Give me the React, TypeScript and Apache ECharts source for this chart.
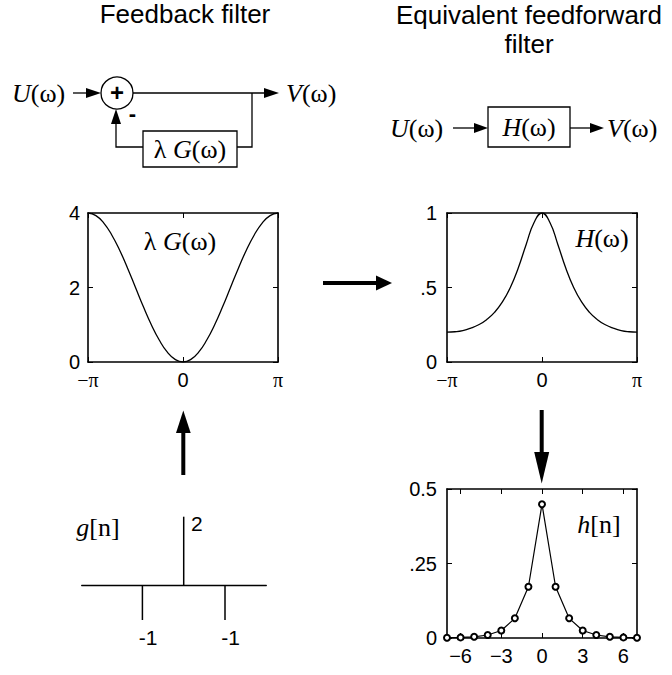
import React, { useEffect, useRef } from "react";
import * as echarts from "echarts";

// ---- data ----
const freqCats = ['−π','','','','','','','','','','','','0','','','','','','','','','','','','π'];
const lamGValues = [4, 3.93, 3.73, 3.41, 3.0, 2.52, 2.0, 1.48, 1.0, 0.59, 0.27, 0.07, 0, 0.07, 0.27, 0.59, 1.0, 1.48, 2.0, 2.52, 3.0, 3.41, 3.73, 3.93, 4];
const hFreqValues = [0.2, 0.203, 0.211, 0.227, 0.25, 0.284, 0.333, 0.403, 0.5, 0.631, 0.789, 0.936, 1, 0.936, 0.789, 0.631, 0.5, 0.403, 0.333, 0.284, 0.25, 0.227, 0.211, 0.203, 0.2];
const nValues = [-7, -6, -5, -4, -3, -2, -1, 0, 1, 2, 3, 4, 5, 6, 7];
const hnValues = [0.001, 0.002, 0.004, 0.01, 0.025, 0.066, 0.172, 0.449, 0.172, 0.066, 0.025, 0.01, 0.004, 0.002, 0.001];
const nTickLabels = [-6, -3, 0, 3, 6];
const lamGTickLabels = ['0', '2', '4'];
const hFreqTickLabels = ['0', '.5', '1'];
const hnTickLabels = ['0', '.25', '0.5'];
const gIndex = [-1, 0, 1];
const gValues = [-1, 2, -1];

const sans = "'Liberation Sans', Arial, Helvetica, sans-serif";
const serif = "'Liberation Serif', 'Times New Roman', serif";

const tickFont = 20;

function mathText(x: number, y: number, parts: [string, boolean][], align: string, size = 26) {
  const text = parts.map(([t, it]) => `{${it ? 'i' : 'r'}|${t}}`).join('');
  return {
    type: 'text', x, y, silent: true,
    style: {
      text, align, verticalAlign: 'middle', fill: '#000',
      fontSize: size, fontFamily: serif,
      rich: {
        i: { fontStyle: 'italic', fontFamily: serif, fontSize: size, fill: '#000' },
        r: { fontStyle: 'normal', fontFamily: serif, fontSize: size, fill: '#000' },
      },
    },
  };
}

const thin = { stroke: '#000', lineWidth: 1.3, fill: 'none' };
function line(pts: number[][], w = 1.3) {
  return { type: 'polyline', silent: true, shape: { points: pts }, style: { stroke: '#000', lineWidth: w, fill: 'none' } };
}
function head(pts: number[][]) {
  return { type: 'polygon', silent: true, shape: { points: pts }, style: { fill: '#000', stroke: 'none' } };
}

function boxAxesX(gridIndex: number, cats: any[], labelFmt: any, interval: any, showLabel: boolean, position: string) {
  return {
    type: 'category', gridIndex, data: cats, boundaryGap: false, position,
    axisLine: { show: true, onZero: false, lineStyle: { color: '#000', width: 1.6 } },
    axisTick: { show: true, inside: true, length: 5, interval, alignWithLabel: true, lineStyle: { color: '#000', width: 1 } },
    axisLabel: showLabel ? {
      show: true, interval, formatter: labelFmt, color: '#000', fontSize: tickFont, fontFamily: sans, margin: 8,
      rich: { p: { fontFamily: serif, fontSize: tickFont, fill: '#000', color: '#000' } },
    } : { show: false, interval },
    splitLine: { show: false },
  };
}
function boxAxesY(gridIndex: number, min: number, max: number, interval: number, labels: string[] | null, position: string, margin = 8) {
  return {
    type: 'value', gridIndex, min, max, interval, position,
    axisLine: { show: true, onZero: false, lineStyle: { color: '#000', width: 1.6 } },
    axisTick: { show: true, inside: true, length: 5, lineStyle: { color: '#000', width: 1 } },
    axisLabel: labels ? {
      show: true, color: '#000', fontSize: tickFont, fontFamily: sans, margin,
      formatter: (v: number) => labels[Math.round((v - min) / interval)] ?? '',
    } : { show: false },
    splitLine: { show: false },
  };
}

export default function App() {
  const ref = useRef<HTMLDivElement>(null);
  useEffect(() => {
    document.body.style.margin = '0';
    const chart = echarts.init(ref.current!, null, { renderer: 'svg' });
    const freqFmt = (v: string) => (v === '0' ? v : `{p|${v}}`);
    const nInterval = (i: number) => nTickLabels.includes(nValues[i]);

    const option: any = {
      animation: false,
      backgroundColor: '#fff',
      grid: [
        { left: 88, top: 213, width: 190, height: 149, containLabel: false, outerBoundsMode: 'none' },
        { left: 447, top: 213, width: 190, height: 149, containLabel: false, outerBoundsMode: 'none' },
        { left: 447, top: 489, width: 190, height: 149, containLabel: false, outerBoundsMode: 'none' },
        { left: 81.7, top: 516.7, width: 184.6, height: 103.3, containLabel: false, outerBoundsMode: 'none' },
      ],
      xAxis: [
        boxAxesX(0, freqCats, freqFmt, 11, true, 'bottom'),
        boxAxesX(0, freqCats, freqFmt, 11, false, 'top'),
        boxAxesX(1, freqCats, freqFmt, 11, true, 'bottom'),
        boxAxesX(1, freqCats, freqFmt, 11, false, 'top'),
        boxAxesX(2, nValues.map(String), (v: string) => v.replace('-', '−'), nInterval, true, 'bottom'),
        boxAxesX(2, nValues.map(String), null, nInterval, false, 'top'),
        {
          type: 'value', gridIndex: 3, min: -2.47, max: 2,
          axisLine: { show: true, onZero: true, lineStyle: { color: '#000', width: 1.3 } },
          axisTick: { show: false }, axisLabel: { show: false }, splitLine: { show: false },
        },
      ],
      yAxis: [
        boxAxesY(0, 0, 4, 2, lamGTickLabels, 'left', 8),
        boxAxesY(0, 0, 4, 2, null, 'right'),
        boxAxesY(1, 0, 1, 0.5, hFreqTickLabels, 'left', 10),
        boxAxesY(1, 0, 1, 0.5, null, 'right'),
        boxAxesY(2, 0, 0.5, 0.25, hnTickLabels, 'left', 10),
        boxAxesY(2, 0, 0.5, 0.25, null, 'right'),
        { type: 'value', gridIndex: 3, min: -1, max: 2, show: false },
      ],
      series: [
        {
          type: 'line', xAxisIndex: 0, yAxisIndex: 0, data: lamGValues, smooth: true,
          showSymbol: false, lineStyle: { color: '#000', width: 1.3 }, silent: true,
        },
        {
          type: 'line', xAxisIndex: 2, yAxisIndex: 2, data: hFreqValues, smooth: true,
          showSymbol: false, lineStyle: { color: '#000', width: 1.3 }, silent: true,
        },
        {
          type: 'line', xAxisIndex: 4, yAxisIndex: 4, data: hnValues, clip: false,
          symbol: 'emptyCircle', symbolSize: 6, showSymbol: true,
          itemStyle: { color: '#000', borderColor: '#000', borderWidth: 1 },
          lineStyle: { color: '#000', width: 1.2 }, silent: true,
        },
        {
          type: 'bar', xAxisIndex: 6, yAxisIndex: 6, barWidth: 1.5, silent: true,
          itemStyle: { color: '#000' },
          data: gIndex.map((n, i) => ({
            value: [n, gValues[i]],
            label: {
              show: true, formatter: String(gValues[i]), color: '#000', fontSize: 21, fontFamily: sans,
              position: gValues[i] > 0 ? [8, -4] : [-3, 41], align: 'left', verticalAlign: 'top',
            },
          })),
        },
      ],
      graphic: [
        // titles
        { type: 'text', x: 185, y: 14, silent: true, style: { text: 'Feedback filter', align: 'center', verticalAlign: 'middle', fontSize: 26, fontFamily: sans, fill: '#000' } },
        { type: 'text', x: 529, y: 15, silent: true, style: { text: 'Equivalent feedforward', align: 'center', verticalAlign: 'middle', fontSize: 26, fontFamily: sans, fill: '#000' } },
        { type: 'text', x: 529, y: 44, silent: true, style: { text: 'filter', align: 'center', verticalAlign: 'middle', fontSize: 26, fontFamily: sans, fill: '#000' } },
        // feedback diagram
        mathText(12, 93, [['U', true], ['(ω)', false]], 'left'),
        line([[73, 93], [90, 93]]),
        head([[101, 93], [86, 88], [86, 98]]),
        { type: 'circle', silent: true, shape: { cx: 117, cy: 93, r: 16 }, style: thin },
        { type: 'text', x: 117, y: 92, silent: true, style: { text: '+', align: 'center', verticalAlign: 'middle', fontSize: 24, fontWeight: 'bold', fontFamily: sans, fill: '#000' } },
        line([[133, 93], [266, 93]]),
        head([[279, 93], [264, 88], [264, 98]]),
        mathText(286, 93, [['V', true], ['(ω)', false]], 'left'),
        line([[252, 93], [252, 147], [237, 147]]),
        { type: 'rect', silent: true, shape: { x: 143, y: 131, width: 94, height: 36 }, style: thin },
        mathText(190, 149, [['λ ', false], ['G', true], ['(ω)', false]], 'center'),
        line([[143, 147], [116, 147], [116, 122]]),
        head([[116, 109], [111, 124], [121, 124]]),
        { type: 'text', x: 132.5, y: 113, silent: true, style: { text: '-', align: 'center', verticalAlign: 'middle', fontSize: 22, fontWeight: 'bold', fontFamily: sans, fill: '#000' } },
        // feedforward diagram
        mathText(390, 128, [['U', true], ['(ω)', false]], 'left'),
        line([[453, 128], [476, 128]]),
        head([[488, 128], [474, 123], [474, 133]]),
        { type: 'rect', silent: true, shape: { x: 488, y: 107, width: 82, height: 40 }, style: thin },
        mathText(529, 127, [['H', true], ['(ω)', false]], 'center'),
        line([[570, 128], [592, 128]]),
        head([[604, 128], [590, 123], [590, 133]]),
        mathText(607, 128, [['V', true], ['(ω)', false]], 'left'),
        // plot annotations
        mathText(180, 241, [['λ ', false], ['G', true], ['(ω)', false]], 'center'),
        mathText(602, 238, [['H', true], ['(ω)', false]], 'center'),
        mathText(599, 524, [['h', true], ['[n]', false]], 'center'),
        mathText(98, 527, [['g', true], ['[n]', false]], 'center'),
        // big arrows
        line([[323, 283], [378, 283]], 4),
        head([[392, 283], [376, 275.5], [376, 290.5]]),
        line([[183.3, 475], [183.3, 428]], 4),
        head([[183.3, 410.5], [176, 433], [190.7, 433]]),
        line([[541.7, 410], [541.7, 456]], 4),
        head([[541.7, 483.5], [534.2, 452], [549.2, 452]]),
      ],
    };
    chart.setOption(option);
    return () => chart.dispose();
  }, []);
  return <div ref={ref} style={{ width: 672, height: 675 }} />;
}
